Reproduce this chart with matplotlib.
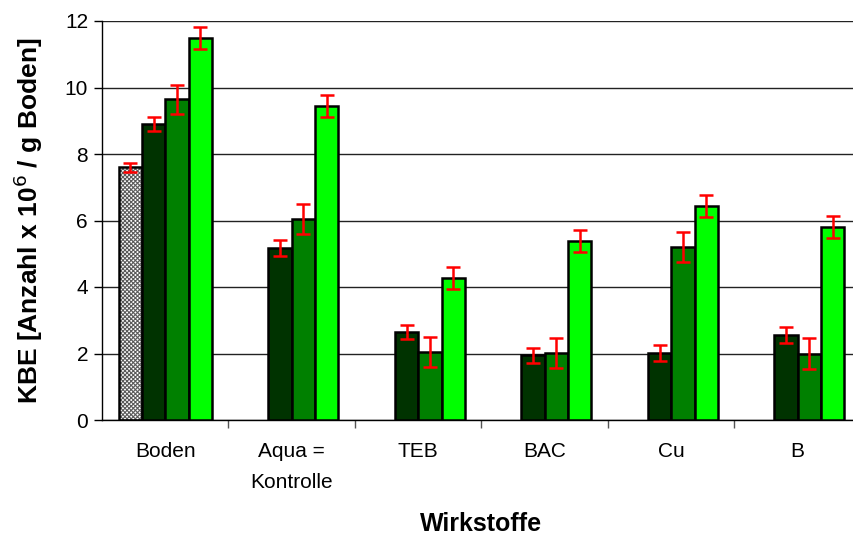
"""
KBE bar chart with error bars
"""
import numpy as np
import matplotlib
matplotlib.use('Agg')
import matplotlib.pyplot as plt

plt.rcParams['font.family'] = ['Liberation Sans', 'DejaVu Sans']
plt.rcParams['hatch.linewidth'] = 0.8

groups = ['Boden', 'Aqua =\nKontrolle', 'TEB', 'BAC', 'Cu', 'B']

# only Boden has the hatched reference bar
ref_vals = [7.6]
ref_err = [0.13]

dark_vals = [8.9, 5.18, 2.65, 1.95, 2.02, 2.56]
dark_err = [0.22, 0.24, 0.22, 0.23, 0.24, 0.24]

mid_vals = [9.64, 6.05, 2.05, 2.02, 5.21, 2.0]
mid_err = [0.45, 0.46, 0.46, 0.46, 0.45, 0.46]

light_vals = [11.49, 9.44, 4.27, 5.39, 6.44, 5.81]
light_err = [0.33, 0.33, 0.33, 0.33, 0.33, 0.33]

fig = plt.figure(figsize=(8.54, 5.37), dpi=100)
ax = fig.add_axes([102/854, 117/537, 759/854, 399/537])

x = np.arange(len(groups))
w = 0.184
ekw = dict(ecolor='#ff0000', elinewidth=1.8, capsize=5, capthick=1.8, zorder=4)

# hatched bar: pattern first, then the black outline on top
xr = x[:len(ref_vals)] - 1.5*w
ax.bar(xr, ref_vals, w, color='white', edgecolor='#5a5a5a', hatch='xxxxxxxx',
       linewidth=0, zorder=2)
ax.bar(xr, ref_vals, w, fill=False, edgecolor='black', linewidth=1.8, zorder=3)
ax.errorbar(xr, ref_vals, yerr=ref_err, fmt='none', **ekw)

for k, (vals, err, col) in enumerate([(dark_vals, dark_err, '#003300'),
                                       (mid_vals, mid_err, '#008000'),
                                       (light_vals, light_err, '#00ff00')]):
    xs = x + (k - 0.5)*w
    ax.bar(xs, vals, w, color=col, edgecolor='black', linewidth=1.8, zorder=3)
    ax.errorbar(xs, vals, yerr=err, fmt='none', **ekw)

ax.set_xlim(-0.5, len(groups) - 0.5)
ax.set_ylim(0, 12)
ax.set_yticks(np.arange(0, 13, 2))
ax.yaxis.grid(True, color='#222222', linewidth=1.0)
ax.set_axisbelow(True)

ax.set_xticks(x)
ax.set_xticklabels(groups, fontsize=15, linespacing=1.8)
ax.set_xticks(np.arange(0.5, len(groups) - 0.5, 1), minor=True)
ax.tick_params(axis='x', which='major', length=0, pad=16)
ax.tick_params(axis='x', which='minor', length=6, width=1, color='#555555', direction='out')
ax.tick_params(axis='y', labelsize=15, length=6, width=1, direction='out', pad=4)

for s in ['top', 'right']:
    ax.spines[s].set_visible(False)
ax.spines['left'].set_linewidth(1.0)
ax.spines['bottom'].set_linewidth(1.0)

ax.set_ylabel('KBE [Anzahl x 10$^{6}$ / g Boden]', fontsize=19, fontweight='bold', labelpad=14)
ax.set_xlabel('Wirkstoffe', fontsize=18, fontweight='bold', labelpad=14)

fig.savefig('out.png', dpi=100)
